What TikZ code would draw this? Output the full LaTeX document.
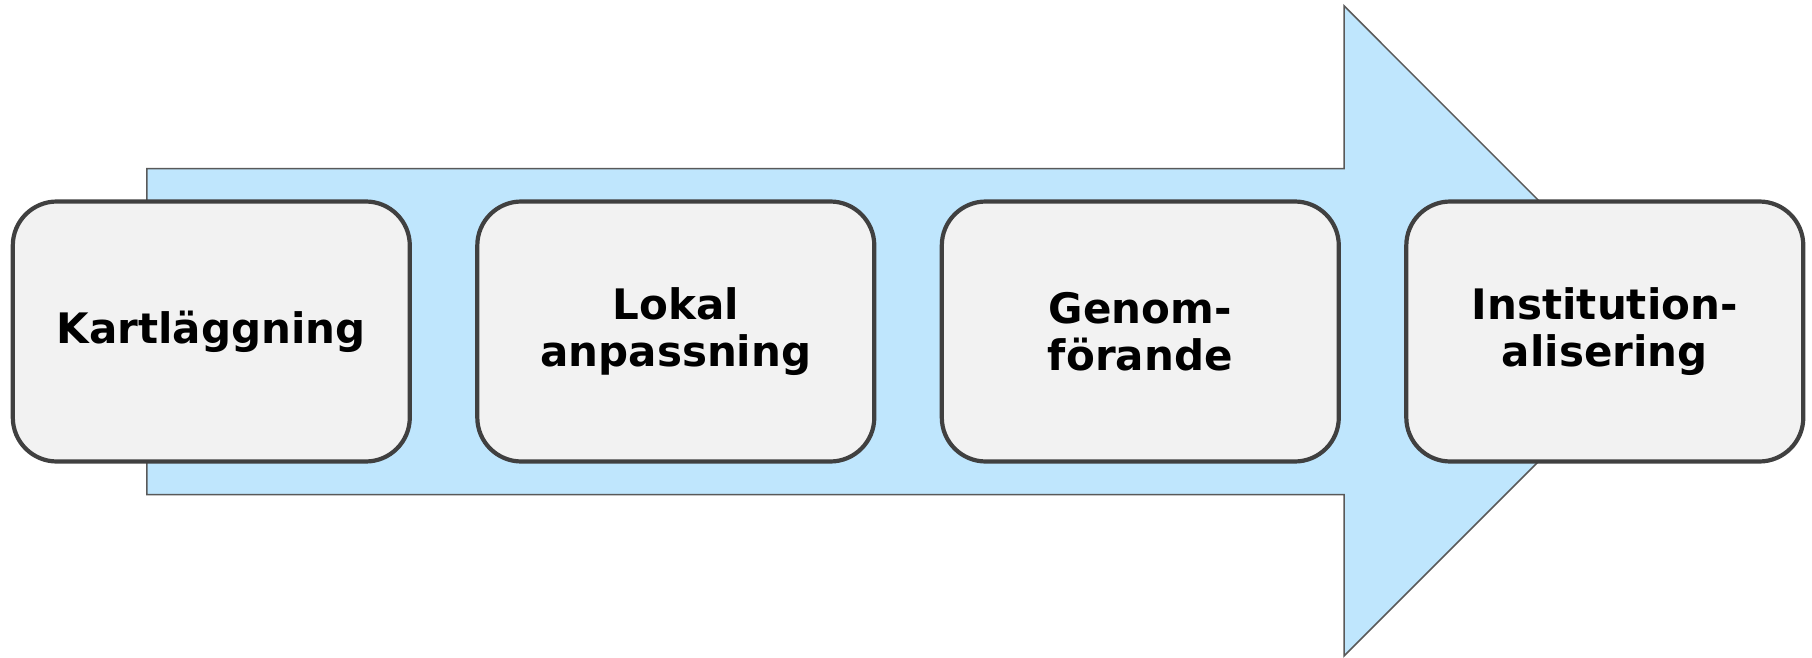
\documentclass[tikz,border=0pt]{standalone}
\usepackage{fontspec}
\setmainfont{DejaVu Sans}
\usepackage{xcolor}
\usepackage{tikz}
\definecolor{arrowblue}{HTML}{BFE6FD}
\definecolor{arrowline}{HTML}{595959}
\definecolor{boxfill}{HTML}{F2F2F2}
\definecolor{boxline}{HTML}{404040}
\tikzset{phase/.style={draw=boxline, fill=boxfill, line width=2.1pt, rounded corners=22pt,
  minimum width=198.5pt, minimum height=130pt, inner sep=0pt, align=center,
  font=\fontsize{21}{23.6}\selectfont\bfseries}}

\begin{document}
\begin{tikzpicture}[x=0.5pt, y=-0.5pt, node distance=232.25pt]
\useasboundingbox (0,0) rectangle (1812,658);
% big arrow behind the boxes
\draw[fill=arrowblue, draw=arrowline, line width=0.75pt] (146.8,168.7) -- (1344,168.7) -- (1344,5.8) -- (1669,331) -- (1344,656) -- (1344,494.6) -- (146.8,494.6) -- cycle;
\node[phase] (kart) at (211.3,331.5) {Kartläggning};
\node[phase, right of=kart] (lokal) {Lokal\\anpassning};
\node[phase, right of=lokal] (genom) {Genom-\\förande};
\node[phase, right of=genom] (inst) {Institution-\\alisering};
\end{tikzpicture}
\end{document}
